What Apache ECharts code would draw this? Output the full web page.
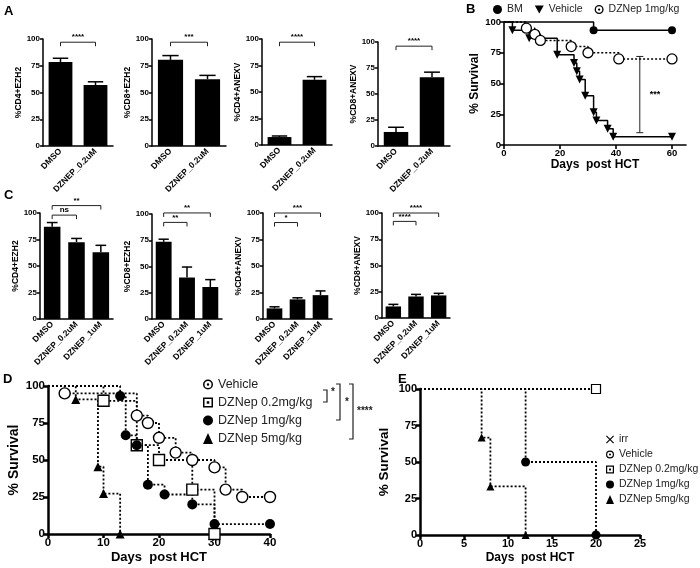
<!DOCTYPE html>
<html><head><meta charset="utf-8">
<script src="https://cdn.jsdelivr.net/npm/echarts/dist/echarts.min.js"></script>
<style>html,body{margin:0;padding:0;background:#fff}#c{width:700px;height:568px}</style>
</head><body><div id="c"></div><script>
// ================= DATA =================
const barYLabels = ['%CD4+EZH2', '%CD8+EZH2', '%CD4+ANEXV', '%CD8+ANEXV'];
const A_categories = ['DMSO', 'DZNEP_0.2uM'];
const A_means = [[78.5, 57], [80.5, 62.5], [7.5, 61.5], [13.5, 66]];
const A_errTop = [[82, 60], [84.5, 66], [8.5, 64.5], [18, 71]];
const A_sig = [[[0, 1, 97, '****']], [[0, 1, 97, '***']], [[0, 1, 97, '****']], [[0, 1, 96, '****']]];

const C_categories = ['DMSO', 'DZNEP_0.2uM', 'DZNEP_1uM'];
const C_means = [[87, 72.5, 63], [73.5, 39.5, 30.5], [10, 18.5, 22.5], [11, 20.5, 21.5]];
const C_errTop = [[91, 76, 69.5], [76, 49.5, 37.5], [11.5, 20, 26.5], [13, 22.5, 23.5]];
const C_sig = [
  [[0, 1, 98, 'ns'], [0, 2, 107, '**']],
  [[0, 1, 92, '**'], [0, 2, 101, '**']],
  [[0, 1, 91, '*'], [0, 2, 100, '***']],
  [[0, 1, 92, '****'], [0, 2, 100, '****']]
];

const B_BM_days = [0, 32, 60];
const B_BM_surv = [100, 93.3, 93.3];
const B_Veh_days = [0, 3, 9, 19, 25, 26, 27, 29, 32, 33, 37, 39, 60];
const B_Veh_surv = [100, 93.3, 86.7, 73.3, 66.7, 60, 53.3, 40, 26.7, 20, 13.3, 6.7, 6.7];
const B_DZ_days = [0, 8, 11, 13, 24, 30, 41, 60];
const B_DZ_surv = [100, 95, 90, 85, 80, 75, 70, 70];
const B_sig = [48.5, 10, 72, '***'];

const D_Veh_days = [0, 3, 16, 18, 20, 23, 26, 30, 32, 35, 40];
const D_Veh_surv = [100, 95, 80, 75, 65, 55, 50, 45, 30, 25, 25];
const D_02_days = [0, 10, 16, 20, 26, 30];
const D_02_surv = [100, 90, 60, 50, 30, 0];
const D_1_days = [0, 13, 14, 16, 18, 21, 26, 30, 40];
const D_1_surv = [100, 93.3, 66.7, 60, 33.3, 26.7, 20, 6.7, 6.7];
const D_5_days = [0, 5, 9, 10, 13];
const D_5_surv = [100, 90.9, 45.5, 27.3, 0];

const E_irr_days = [0, 20];
const E_irr_surv = [100, 100];
const E_Veh_days = [0, 20];
const E_Veh_surv = [100, 100];
const E_02_days = [0, 20];
const E_02_surv = [100, 100];
const E_1_days = [0, 12, 20];
const E_1_surv = [100, 50, 0];
const E_5_days = [0, 7, 8, 12];
const E_5_surv = [100, 66.7, 33.3, 0];

const surv_ticks = [0, 25, 50, 75, 100];

// ================= BUILD =================
const FONT = '"Liberation Sans", Arial, Helvetica, sans-serif';
const BLACK = '#000';
const RING = 'path://M10,0A10,10,0,1,1,10,20A10,10,0,1,1,10,0ZM10,3A7,7,0,1,0,10,17A7,7,0,1,0,10,3ZM10,7.5A2.5,2.5,0,1,1,10,12.5A2.5,2.5,0,1,1,10,7.5Z';
const SQDOT = 'path://M0,0L20,0L20,20L0,20ZM3,3L3,17L17,17L17,3ZM7.5,7.5L12.5,7.5L12.5,12.5L7.5,12.5Z';
const INVTRI = 'path://M0,0L20,0L10,18Z';
const XMARK = 'path://M2,0L10,8L18,0L20,2L12,10L20,18L18,20L10,12L2,20L0,18L8,10L0,2Z';

const grids = [], xAxis = [], yAxis = [], series = [];

function errRender(params, api) {
  const x = api.value(0), m = api.value(1), e = api.value(2);
  const p1 = api.coord([x, m]), p2 = api.coord([x, e]);
  const hw = api.size([1, 0])[0] * 0.22;
  return { type: 'group', children: [
    { type: 'line', shape: { x1: p1[0], y1: p1[1], x2: p2[0], y2: p2[1] }, style: { stroke: BLACK, lineWidth: 1.5 } },
    { type: 'line', shape: { x1: p2[0] - hw, y1: p2[1], x2: p2[0] + hw, y2: p2[1] }, style: { stroke: BLACK, lineWidth: 1.5 } }
  ] };
}
function brRender(list) {
  return function (params, api) {
    const b = list[params.dataIndex];
    const pa = api.coord([b[0], b[2]]), pb = api.coord([b[1], b[2]]);
    const hook = 4;
    return { type: 'group', children: [
      { type: 'polyline', shape: { points: [[pa[0], pa[1] + hook], [pa[0], pa[1]], [pb[0], pb[1]], [pb[0], pb[1] + hook]] },
        style: { stroke: '#222', lineWidth: 1, fill: null } },
      { type: 'text', style: { text: b[3], x: (pa[0] + pb[0]) / 2, y: pa[1] - 1, align: 'center', verticalAlign: 'bottom',
        fontSize: 8, fontWeight: 'bold', fill: BLACK, fontFamily: FONT } }
    ] };
  };
}

function addBarPanel(box, cats, means, errs, sig, yname, nameGap, barW) {
  const gi = grids.length;
  grids.push({ left: box[0], top: box[1], width: box[2], height: box[3] });
  xAxis.push({ type: 'category', gridIndex: gi, data: cats,
    axisLine: { lineStyle: { color: BLACK, width: 1.5 } }, axisTick: { show: false },
    axisLabel: { rotate: 45, interval: 0, fontSize: 8.5, fontWeight: 'bold', color: BLACK, margin: 4, fontFamily: FONT } });
  yAxis.push({ type: 'value', gridIndex: gi, min: 0, max: 100, interval: 25,
    name: yname, nameLocation: 'middle', nameRotate: 90, nameGap: nameGap,
    nameTextStyle: { fontSize: 8.5, fontWeight: 'bold', color: BLACK, fontFamily: FONT },
    axisLine: { show: true, lineStyle: { color: BLACK, width: 1.5 } },
    axisTick: { show: true, length: 3, lineStyle: { color: BLACK, width: 1.5 } },
    splitLine: { show: false },
    axisLabel: { fontSize: 8, fontWeight: 'bold', color: BLACK, margin: 3, fontFamily: FONT } });
  series.push({ type: 'bar', xAxisIndex: gi, yAxisIndex: gi, data: means, barWidth: barW, itemStyle: { color: BLACK }, silent: true });
  series.push({ type: 'custom', xAxisIndex: gi, yAxisIndex: gi, data: means.map((m, i) => [i, m, errs[i]]), renderItem: errRender, silent: true, z: 3 });
  series.push({ type: 'custom', xAxisIndex: gi, yAxisIndex: gi, data: sig.map(b => [b[0], b[2]]), renderItem: brRender(sig), silent: true, clip: false, z: 3 });
}

function addKM(box, xmax, xint, cfg) {
  const gi = grids.length;
  grids.push({ left: box[0], top: box[1], width: box[2], height: box[3] });
  xAxis.push({ type: 'value', gridIndex: gi, min: 0, max: xmax, interval: xint,
    name: 'Days  post HCT', nameLocation: 'middle', nameGap: cfg.xGap,
    nameTextStyle: { fontSize: cfg.nameSize, fontWeight: 'bold', color: BLACK, fontFamily: FONT },
    axisLine: { onZero: false, lineStyle: { color: BLACK, width: cfg.lw } },
    axisTick: { length: 4, lineStyle: { color: BLACK, width: cfg.lw } }, splitLine: { show: false },
    axisLabel: { fontSize: cfg.tick, fontWeight: 'bold', color: BLACK, margin: 3, fontFamily: FONT, showMaxLabel: cfg.showMax,
      formatter: v => (v % xint === 0 ? String(v) : '') } });
  yAxis.push({ type: 'value', gridIndex: gi, min: 0, max: 100, interval: 25,
    name: '% Survival', nameLocation: 'middle', nameRotate: 90, nameGap: cfg.yGap,
    nameTextStyle: { fontSize: cfg.ynameSize, fontWeight: 'bold', color: BLACK, fontFamily: FONT },
    axisLine: { show: true, onZero: false, lineStyle: { color: BLACK, width: cfg.lw } },
    axisTick: { show: true, length: 4, lineStyle: { color: BLACK, width: cfg.lw } }, splitLine: { show: false },
    axisLabel: { fontSize: cfg.tick, fontWeight: 'bold', color: BLACK, margin: 3, fontFamily: FONT,
      formatter: v => (surv_ticks.indexOf(v) >= 0 ? String(v) : '') } });
  return gi;
}

function addCurve(gi, name, days, surv, sym, lw, dash) {
  const data = days.map((d, i) => i === 0 ? { value: [d, surv[i]], symbol: 'none' } : [d, surv[i]]);
  series.push({ type: 'line', name: name, xAxisIndex: gi, yAxisIndex: gi, step: 'end', data: data,
    symbol: sym.symbol, symbolSize: sym.size, symbolRotate: sym.rotate || 0, showAllSymbol: true, clip: false,
    lineStyle: { color: BLACK, width: lw, type: dash },
    itemStyle: { color: sym.fill, borderColor: BLACK, borderWidth: sym.bw || 0 },
    emphasis: { disabled: true }, silent: true });
  if (sym.dot) {
    series.push({ type: 'scatter', xAxisIndex: gi, yAxisIndex: gi, data: days.slice(1).map((d, i) => [d, surv[i + 1]]),
      symbol: 'circle', symbolSize: sym.dot, itemStyle: { color: BLACK }, silent: true, clip: false });
  }
}

// Panel A
const A_boxes = [[43, 39, 70, 107], [152, 39, 74, 107], [262, 39, 70, 106], [378, 42, 72, 104]];
const A_gaps = [18, 14, 19, 15];
for (let k = 0; k < 4; k++) addBarPanel(A_boxes[k], A_categories, A_means[k], A_errTop[k], A_sig[k], barYLabels[k], A_gaps[k], '68%');
// Panel C
const C_boxes = [[40, 213, 73, 106], [152, 214, 70, 105], [263, 213, 69, 106], [382, 213, 68, 105]];
const C_gaps = [15, 14, 20, 19];
for (let k = 0; k < 4; k++) addBarPanel(C_boxes[k], C_categories, C_means[k], C_errTop[k], C_sig[k], barYLabels[k], C_gaps[k], '68%');

// Panel B
const gB = addKM([504, 22, 182, 123], 65, 20, { lw: 1.6, tick: 9.5, nameSize: 12, ynameSize: 12, xGap: 12, yGap: 23, showMax: false });
addCurve(gB, 'B|BM', B_BM_days, B_BM_surv, { symbol: 'circle', size: 8, fill: BLACK }, 1.5, 'solid');
addCurve(gB, 'B|Vehicle', B_Veh_days, B_Veh_surv, { symbol: 'triangle', rotate: 180, size: 8, fill: BLACK }, 1.5, 'solid');
addCurve(gB, 'B|DZNep 1mg/kg', B_DZ_days, B_DZ_surv, { symbol: 'circle', size: 10, fill: '#fff', bw: 1.3, dot: 2.5 }, 1.5, [2, 2]);
series.push({ type: 'custom', xAxisIndex: gB, yAxisIndex: gB, data: [[B_sig[0], B_sig[1]]], silent: true, clip: false,
  renderItem: function (params, api) {
    const p1 = api.coord([B_sig[0], B_sig[1]]), p2 = api.coord([B_sig[0], B_sig[2]]);
    return { type: 'group', children: [
      { type: 'line', shape: { x1: p1[0], y1: p1[1], x2: p2[0], y2: p2[1] }, style: { stroke: '#222', lineWidth: 1 } },
      { type: 'line', shape: { x1: p1[0] - 3.5, y1: p1[1], x2: p1[0] + 3.5, y2: p1[1] }, style: { stroke: '#222', lineWidth: 1 } },
      { type: 'line', shape: { x1: p2[0] - 3.5, y1: p2[1], x2: p2[0] + 3.5, y2: p2[1] }, style: { stroke: '#222', lineWidth: 1 } },
      { type: 'text', style: { text: B_sig[3], x: p1[0] + 10, y: (p1[1] + p2[1]) / 2, align: 'left', verticalAlign: 'middle', fontSize: 9, fontWeight: 'bold', fill: BLACK, fontFamily: FONT } }
    ] };
  } });

// Panel D
const gD = addKM([48, 386, 222, 148], 40, 10, { lw: 2.5, tick: 11.5, nameSize: 13, ynameSize: 14, xGap: 17, yGap: 27, showMax: true });
addCurve(gD, 'D|Vehicle', D_Veh_days, D_Veh_surv, { symbol: 'circle', size: 11, fill: '#fff', bw: 1.4, dot: 3 }, 1.8, [2, 2]);
addCurve(gD, 'D|DZNep 0.2mg/kg', D_02_days, D_02_surv, { symbol: 'rect', size: 11, fill: '#fff', bw: 1.4, dot: 3 }, 1.8, [2, 2]);
addCurve(gD, 'D|DZNep 1mg/kg', D_1_days, D_1_surv, { symbol: 'circle', size: 10, fill: BLACK }, 1.8, [2, 2]);
addCurve(gD, 'D|DZNep 5mg/kg', D_5_days, D_5_surv, { symbol: 'triangle', size: 9, fill: BLACK }, 1.8, [2, 2]);

// Panel E
const gE = addKM([420, 389, 220, 146], 25, 5, { lw: 2.5, tick: 11, nameSize: 12, ynameSize: 13.5, xGap: 17, yGap: 29, showMax: true });
addCurve(gE, 'E|irr', E_irr_days, E_irr_surv, { symbol: XMARK, size: 7, fill: BLACK }, 1.8, [2, 2]);
addCurve(gE, 'E|Vehicle', E_Veh_days, E_Veh_surv, { symbol: 'circle', size: 9, fill: '#fff', bw: 1.2, dot: 2.5 }, 1.8, [2, 2]);
addCurve(gE, 'E|DZNep 0.2mg/kg', E_02_days, E_02_surv, { symbol: 'rect', size: 9, fill: '#fff', bw: 1.2, dot: 2.5 }, 1.8, [2, 2]);
addCurve(gE, 'E|DZNep 1mg/kg', E_1_days, E_1_surv, { symbol: 'circle', size: 9, fill: BLACK }, 1.8, [2, 2]);
addCurve(gE, 'E|DZNep 5mg/kg', E_5_days, E_5_surv, { symbol: 'triangle', size: 8, fill: BLACK }, 1.8, [2, 2]);

const stripName = n => n.split('|')[1];
const legends = [
  { left: 493, top: 4, orient: 'horizontal', itemWidth: 9, itemHeight: 9, itemGap: 12,
    textStyle: { fontSize: 10.5, color: '#222', fontFamily: FONT },
    data: [{ name: 'B|BM', icon: 'circle' }, { name: 'B|Vehicle', icon: INVTRI }, { name: 'B|DZNep 1mg/kg', icon: RING }] },
  { left: 203, top: 378, orient: 'vertical', itemWidth: 10, itemHeight: 11, itemGap: 5,
    textStyle: { fontSize: 12.5, color: '#222', fontFamily: FONT },
    data: [{ name: 'D|Vehicle', icon: RING }, { name: 'D|DZNep 0.2mg/kg', icon: SQDOT }, { name: 'D|DZNep 1mg/kg', icon: 'circle' }, { name: 'D|DZNep 5mg/kg', icon: 'triangle' }] },
  { left: 606, top: 434, orient: 'vertical', itemWidth: 8, itemHeight: 9, itemGap: 4,
    textStyle: { fontSize: 10.5, color: '#222', fontFamily: FONT },
    data: [{ name: 'E|irr', icon: XMARK }, { name: 'E|Vehicle', icon: RING }, { name: 'E|DZNep 0.2mg/kg', icon: SQDOT }, { name: 'E|DZNep 1mg/kg', icon: 'circle' }, { name: 'E|DZNep 5mg/kg', icon: 'triangle' }] }
].map(l => Object.assign(l, { selectedMode: false, padding: 0, formatter: stripName, itemStyle: { color: BLACK, borderWidth: 0 }, lineStyle: { width: 0 } }));

function letter(t, x, y) {
  return { type: 'text', left: x, top: y, style: { text: t, fontSize: 13, fontWeight: 'bold', fill: BLACK, fontFamily: FONT } };
}
function vbr(x, y1, y2, txt, tx, ty) {
  return [
    { type: 'polyline', shape: { points: [[x - 4, y1], [x, y1], [x, y2], [x - 4, y2]] }, style: { stroke: '#222', lineWidth: 1.2, fill: null } },
    { type: 'text', x: tx, y: ty, style: { text: txt, fontSize: 10, fontWeight: 'bold', fill: '#222', fontFamily: FONT, verticalAlign: 'middle' } }
  ];
}
const graphic = [
  letter('A', 4, 5), letter('B', 466, 3), letter('C', 4, 189), letter('D', 3, 373), letter('E', 398, 373)
].concat(vbr(327, 390, 402, '*', 331, 392), vbr(340, 384, 420, '*', 345, 402), vbr(353, 384, 439, '****', 357, 411));

const chart = echarts.init(document.getElementById('c'));
chart.setOption({
  animation: false,
  textStyle: { fontFamily: FONT },
  grid: grids, xAxis: xAxis, yAxis: yAxis, series: series,
  legend: legends, graphic: graphic
});
</script></body></html>
